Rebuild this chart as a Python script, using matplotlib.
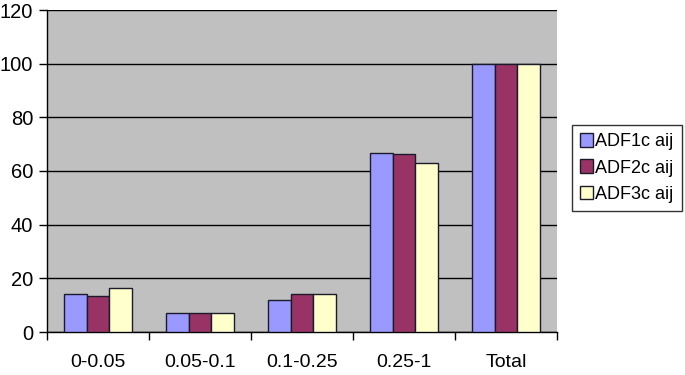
import numpy as np
import matplotlib.pyplot as plt
import matplotlib as mpl

mpl.rcParams['font.family'] = ['Liberation Sans', 'DejaVu Sans']

categories = ['0-0.05', '0.05-0.1', '0.1-0.25', '0.25-1', 'Total']
series_names = ['ADF1c aij', 'ADF2c aij', 'ADF3c aij']
adf1 = [14.3, 7.1, 12.1, 66.8, 100]
adf2 = [13.3, 7.1, 14.3, 66.3, 100]
adf3 = [16.5, 7.1, 14.3, 63.1, 100]
colors = ['#9999FF', '#993366', '#FFFFCC']

fig = plt.figure(figsize=(6.85, 3.75), dpi=100)
ax = fig.add_axes([47/685, 43/375, 510/685, 322/375])
ax.set_facecolor('#C0C0C0')

x = np.arange(len(categories))
w = 0.222
for i, (vals, name, c) in enumerate(zip([adf1, adf2, adf3], series_names, colors)):
    ax.bar(x + (i - 1) * w, vals, width=w, color=c, edgecolor='#1a1a2a',
           linewidth=1.0, label=name, zorder=3)

ax.set_xlim(-0.5, len(categories) - 0.5)
ax.set_ylim(0, 120)
ax.set_yticks(range(0, 121, 20))
ax.yaxis.grid(True, color='black', linewidth=1.0, zorder=0)
ax.set_axisbelow(True)

ax.set_xticks(x)
ax.set_xticklabels(categories)
ax.set_xticks(np.arange(-0.5, len(categories)), minor=True)
ax.tick_params(axis='x', which='major', length=0, pad=16, labelsize=14)
ax.tick_params(axis='x', which='minor', length=6, width=1, color='black')
ax.tick_params(axis='y', length=6, width=1, pad=4, labelsize=14.5)

for s in ['top', 'right']:
    ax.spines[s].set_visible(False)
ax.spines['left'].set_linewidth(1.0)
ax.spines['bottom'].set_linewidth(1.0)

leg = fig.legend(loc='upper left', bbox_to_anchor=(572/685, 1 - 125/375),
                 fontsize=13, frameon=True, fancybox=False, edgecolor='black',
                 handlelength=0.7, handleheight=0.8, handletextpad=0.15,
                 borderpad=0.45, borderaxespad=0, labelspacing=0.5)
leg.get_frame().set_linewidth(1.0)

fig.savefig('out.png', dpi=100)
